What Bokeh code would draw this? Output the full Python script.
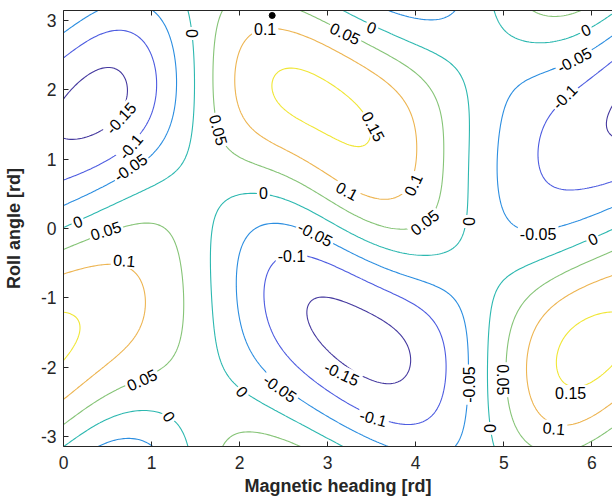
import numpy as np
from bokeh.plotting import figure
from bokeh.models import LinearAxis, FixedTicker, Range1d
from bokeh.core.properties import value
from bokeh.embed import file_html
from bokeh.resources import INLINE

# ---------------- data ----------------
levels = [-0.15, -0.1, -0.05, 0.0, 0.05, 0.1, 0.15]

# points lying on each contour line (heading [rd], roll [rd])
m015_heading = [0.03,0.55,0.82,0.84,0.74,0.65,0.40,0.03, 6.24,6.06,6.24,
                2.74,2.65,2.71,2.82,3.16,3.57,3.95,4.01,3.84,3.46,3.16]
m015_roll = [2.02,2.46,2.26,2.02,1.76,1.59,1.33,1.20, 1.85,1.47,1.18,
             -0.92,-1.20,-1.49,-1.63,-0.92,-1.20,-1.68,-2.06,-2.23,-2.23,-2.09]

m010_heading = [0.03,0.44,0.67,0.89,1.05,1.06,0.93,0.76,0.44,0.03,
                5.35,5.57,6.03,6.24,5.31,5.42,5.69,5.91,6.24,
                2.59,2.44,2.29,2.29,2.44,2.82,2.93,3.48,4.03,4.33,4.40,4.33,4.14,3.80,3.52,3.27]
m010_roll = [2.52,2.86,2.90,2.76,2.33,1.95,1.47,1.18,0.85,0.68,
             0.66,0.47,0.56,0.75,1.14,1.57,1.90,2.14,2.33,
             -0.40,-0.39,-0.73,-1.20,-1.68,-2.02,-0.42,-0.62,-0.87,-1.35,-1.92,-2.49,-2.83,-2.85,-2.73,-2.59]

m005_heading = [0.93,1.2,1.29,1.29,1.2,0.97,0.76,0.44,0.03,0.03,0.215,
                0.40,0.82,1.01, 3.65,3.95,4.29,4.48,
                1.95,1.91,2.03,2.29,2.46,2.82,3.2,3.61,
                2.25,2.48,2.86,3.12,3.50,3.84,4.29,4.55,4.61,4.59,4.52,
                4.93,4.91,5.08,5.39,5.69,6.24, 4.97,5.0,5.2,5.5,5.8,6.24]
m005_roll = [3.12,2.81,2.33,1.85,1.42,1.11,0.88,0.66,0.35,2.86,3.12,
             -3.09,-2.97,-3.09, 3.14,2.97,2.97,3.12,
             -0.01,-0.73,-1.44,-2.02,-2.30,-2.59,-2.92,-3.09,
             0.09,0.13,-0.08,-0.27,-0.58,-0.77,-1.01,-1.54,-2.25,-2.49,-3.09,
             1.14,0.42,-0.01,-0.08,-0.01,0.28, 0.90,1.61,2.0,2.26,2.43,2.66]

z000_heading = [1.44,1.46,1.48,1.46,1.40,1.2,0.82,0.29,0.03,0.16,
                0.03,0.44,0.89,1.2,1.37,1.40,
                1.69,1.67,1.72,1.88,2.03,2.33,2.82,3.08,
                1.80,2.27,2.40,2.82,3.48,3.84,4.14,4.43,4.51,4.57,4.57,4.56,4.48,4.22,3.65,3.5,3.27,
                4.9,5.05,5.35,5.8,5.93,6.24,5.42,
                4.82,4.86,4.84,4.88,4.97,5.16,5.54,5.72,5.95,6.01,6.24]
z000_roll = [3.12,2.81,2.33,1.38,1.04,0.71,0.47,0.23,0.01,0.10,
             -3.09,-2.73,-2.59,-2.71,-2.88,-3.09,
             -0.01,-0.73,-1.44,-2.02,-2.35,-2.59,-2.83,-3.11,
             0.28,0.51,0.49,0.30,-0.17,-0.49,-0.46,-0.36,-0.13,0.32,0.90,1.61,2.19,2.57,2.86,2.90,3.14,
             3.12,2.81,2.71,2.78,2.86,3.06,2.69,
             -1.25,-1.92,-2.88,-3.09,-1.01,-0.73,-0.44,-0.30,-0.20,-0.15,-0.03]

p005_heading = [1.72,1.69,1.69,1.76,1.88,2.33,2.71,3.27,3.38,3.84,4.10,4.29,4.33,4.33,4.25,3.95,3.46,3.2,2.71,
                0.86,1.08,1.35,1.37,1.35,1.16,0.89,0.63,0.03,0.48,0.03,
                1.8,2.03,2.33,2.63,
                4.99,5.12,5.2,5.05,5.35,5.72,6.24, 5.31,5.57,5.88, 5.95,6.24]
p005_roll = [3.12,2.57,2.09,1.42,1.14,0.95,0.66,0.23,0.13,-0.08,0.06,0.32,0.83,1.14,1.85,2.33,2.62,2.81,3.09,
             0.13,0.16,-0.01,-0.73,-1.44,-1.97,-2.18,-2.30,-2.83,-0.03,-0.27,
             -3.09,-2.90,-2.92,-3.09,
             -2.18,-2.97,-3.09,-1.44,-0.95,-0.54,-0.38, 3.14,3.03,3.14, -3.09,-2.83]

p010_heading = [1.91,2.03,2.18,2.29,2.59,2.82,3.16,3.61,3.91,4.03,4.06,3.91,3.97,3.84,3.46,3.22,3.01,2.52,2.25,2.03,1.91,
                0.03,0.55,0.89,0.99,0.89,0.69,0.44,0.03,
                5.2,5.35,5.57,5.91,6.24,5.35,5.72,5.95,6.24]
p010_roll = [2.33,2.71,2.86,2.88,2.86,2.81,2.57,2.19,1.76,1.28,1.14,0.75,0.63,0.42,0.37,0.54,0.75,1.14,1.23,1.47,1.85,
             -2.40,-1.92,-1.44,-0.97,-0.54,-0.46,-0.44,-0.61,
             -2.02,-2.49,-2.88,-2.83,-2.68,-1.20,-0.82,-1.01,-0.67]

p015_heading = [2.33,2.44,2.71,2.82,3.16,3.52,3.61,3.46,3.08,2.71,2.59,
                0.03,0.22,0.25,0.03,
                5.5,5.57,5.76,6.03,6.24,5.69,6.03,6.24]
p015_roll = [2.14,2.33,2.33,2.40,2.04,1.47,1.14,0.95,1.14,1.47,1.71,
             -1.13,-1.30,-1.49,-1.92,
             -1.92,-2.25,-2.37,-2.21,-2.02,-1.63,-1.20,-0.97]

# inline contour labels
lab_heading = [1.46,2.29,3.2,3.5,5.93,5.8,5.69,0.65,0.76,0.76,1.76,3.52,3.22,3.97,4.10,4.6,2.27,2.86,
               2.59,5.39,6.01,0.16,0.48,0.69,0.89,1.2,2.03,2.46,3.16,3.52,4.61,4.99,4.84,5.76,5.57]
lab_roll = [2.81,2.88,2.81,2.90,2.86,2.43,1.90,1.59,1.18,0.88,1.42,1.47,0.54,0.63,0.09,0.10,0.51,-0.08,
            -0.40,-0.08,-0.15,0.10,-0.03,-0.46,-2.18,-2.71,-2.35,-2.30,-2.09,-2.73,-2.25,-2.18,-2.88,-2.37,-2.88]
lab_text = ["0","0.1","0.05","0","0","-0.05","-0.1","-0.15","-0.1","-0.05","0.05","0.15","0.1","0.1",
            "0.05","0","0","-0.05","-0.1","-0.05","0","0","0.05","0.1","0.05","0","0","-0.05","-0.15",
            "-0.1","-0.05","0.05","0","0.15","0.1"]
lab_angle_deg = [-90,0,-25,-20,25,28,45,48,50,35,-75,-62,-28,65,38,-90,0,-27,
                 0,0,25,20,18,-5,25,-55,-50,-35,-25,-15,90,-90,90,0,-5]

marker_heading = [2.37]
marker_roll = [3.07]

x_ticks = [0, 1, 2, 3, 4, 5, 6]
y_ticks = [-3, -2, -1, 0, 1, 2, 3]

# ---------------- surface from the read contour points ----------------
pairs = [(m015_heading, m015_roll), (m010_heading, m010_roll), (m005_heading, m005_roll),
         (z000_heading, z000_roll), (p005_heading, p005_roll), (p010_heading, p010_roll),
         (p015_heading, p015_roll)]
H = np.concatenate([np.asarray(h, float) for h, r in pairs])
R = np.concatenate([np.asarray(r, float) for h, r in pairs])
Z = np.concatenate([np.full(len(h), lv) for (h, r), lv in zip(pairs, levels)])

N_HARM = 3


def harmonics(t):
    out = [(np.ones_like(t), 0)]
    for k in range(1, N_HARM + 1):
        out += [(np.cos(k * t), k), (np.sin(k * t), k)]
    return out


def basis(h, r):
    cols, pen = [], []
    for a, ma in harmonics(h):
        for b, nb in harmonics(r):
            cols.append(a * b)
            pen.append(ma ** 2 + nb ** 2)
    return np.stack(cols, axis=-1), np.array(pen, float)


A, pen = basis(H, R)
coef = np.linalg.solve(A.T @ A + 0.6 * np.diag(pen ** 1.5), A.T @ Z)

xg = np.linspace(0, 2 * np.pi, 241)
yg = np.linspace(-np.pi, np.pi, 241)
XG, YG = np.meshgrid(xg, yg)
ZG = basis(XG, YG)[0] @ coef

# ---------------- figure ----------------
FONT = "Liberation Sans"
AX = "#262626"
colors = ["#45399F", "#4D5CE0", "#2C8EE0", "#2DB8B0", "#86C477", "#EDB552", "#F0E636"]

p = figure(width=612, height=501, x_range=Range1d(0, 6.235), y_range=Range1d(-np.pi, np.pi),
           output_backend="svg", toolbar_location=None,
           min_border_left=62, min_border_right=0, min_border_top=10, min_border_bottom=55,
           background_fill_color="white", border_fill_color="white", outline_line_color=None)
p.xgrid.visible = False
p.ygrid.visible = False

p.contour(x=xg, y=yg, z=ZG, levels=levels, line_color=colors, line_width=1.1)

p.text(x=lab_heading, y=lab_roll, text=lab_text, angle=np.deg2rad(lab_angle_deg),
       text_font=value(FONT), text_font_size="16px", text_color="black",
       text_align="center", text_baseline="middle",
       background_fill_color="white", padding=2)

p.scatter(x=marker_heading, y=marker_roll, size=6, color="black")

for ax in (p.xaxis[0], p.yaxis[0]):
    ax.major_tick_in = 5
    ax.major_tick_out = 0
    ax.minor_tick_line_color = None
    ax.axis_line_color = AX
    ax.major_tick_line_color = AX
    ax.major_label_text_color = AX
    ax.major_label_text_font = FONT
    ax.major_label_text_font_size = "17.5px"
    ax.axis_label_text_font = FONT
    ax.axis_label_text_font_size = "18px"
    ax.axis_label_text_font_style = "bold"
    ax.axis_label_text_color = AX
p.xaxis[0].ticker = FixedTicker(ticks=x_ticks)
p.yaxis[0].ticker = FixedTicker(ticks=y_ticks)
p.xaxis[0].major_label_overrides = {t: str(t) for t in x_ticks}
p.yaxis[0].major_label_overrides = {t: str(t) for t in y_ticks}
p.xaxis[0].major_label_standoff = 9
p.yaxis[0].major_label_standoff = 7
p.xaxis[0].axis_label = "Magnetic heading [rd]"
p.yaxis[0].axis_label = "Roll angle [rd]"
p.xaxis[0].axis_label_standoff = 4
p.yaxis[0].axis_label_standoff = 14

top = LinearAxis(ticker=FixedTicker(ticks=x_ticks), major_tick_in=5, major_tick_out=0,
                 minor_tick_line_color=None, axis_line_color=AX, major_tick_line_color=AX,
                 major_label_text_font_size="0px", major_label_standoff=0)
top.major_label_overrides = {t: "" for t in x_ticks}
p.add_layout(top, "above")

open("out.html", "w").write(file_html(p, INLINE))
